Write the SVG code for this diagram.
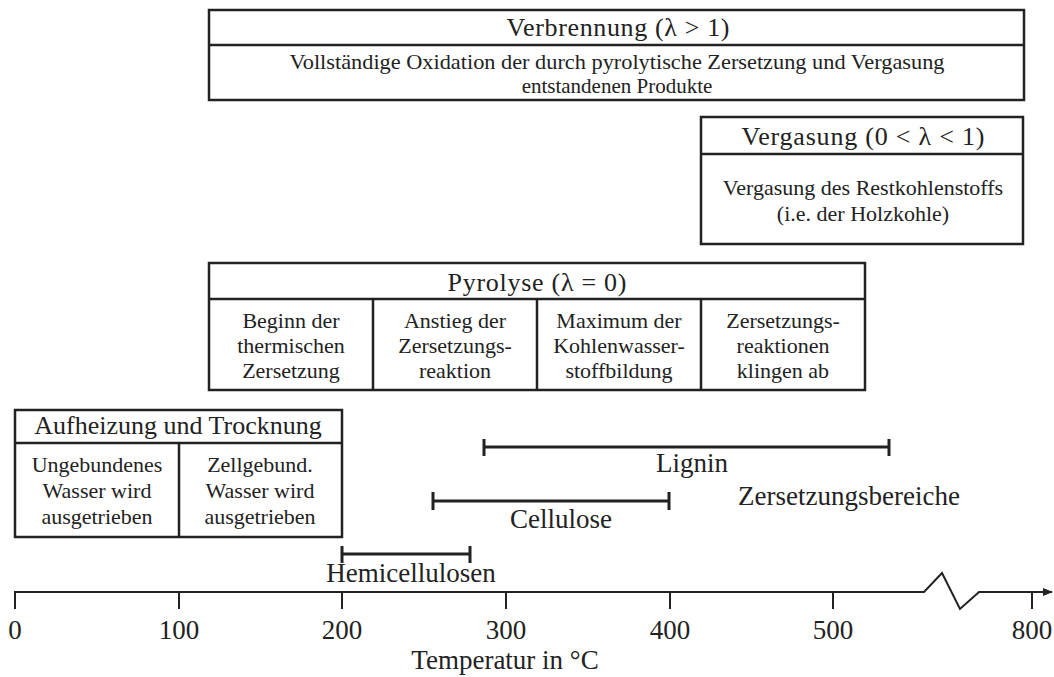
<svg xmlns="http://www.w3.org/2000/svg" width="1054" height="677" viewBox="0 0 1054 677">
<style>
.box{fill:#fff;stroke:#222;stroke-width:2.5}
.ln{fill:none;stroke:#222;stroke-width:2.5}
.ax{fill:none;stroke:#222;stroke-width:2}
.bar{fill:none;stroke:#222;stroke-width:3}
text{fill:#222;text-anchor:middle;font-family:"Liberation Serif","Times New Roman",serif}
.t{font-size:26px}
.l{font-size:27px}
.b{font-size:22px}
.s{font-size:21px}
</style>
<defs>
<marker id="arr" viewBox="0 0 10 10" refX="9" refY="5" markerWidth="10" markerHeight="10" markerUnits="userSpaceOnUse" orient="auto">
<path d="M0,1 L10,5 L0,9 Z" fill="#222"/>
</marker>
</defs>
<rect width="1054" height="677" fill="#fff"/>

<g id="verbrennung">
<rect class="box" x="209" y="10" width="815" height="90"/>
<line class="ln" x1="209" y1="45" x2="1024" y2="45"/>
<text class="t" x="618" y="36" textLength="223" lengthAdjust="spacing">Verbrennung (λ &gt; 1)</text>
<text class="s" x="617" y="69" textLength="655" lengthAdjust="spacingAndGlyphs">Vollständige Oxidation der durch pyrolytische Zersetzung und Vergasung</text>
<text class="s" x="617" y="93">entstandenen Produkte</text>
</g>

<g id="vergasung">
<rect class="box" x="701" y="117" width="322" height="127"/>
<line class="ln" x1="701" y1="154" x2="1023" y2="154"/>
<text class="t" x="863" y="145" textLength="243" lengthAdjust="spacing">Vergasung (0 &lt; λ &lt; 1)</text>
<text class="b" x="863" y="195">Vergasung des Restkohlenstoffs</text>
<text class="b" x="863" y="221">(i.e. der Holzkohle)</text>
</g>

<g id="pyrolyse">
<rect class="box" x="209" y="263" width="656" height="127"/>
<line class="ln" x1="209" y1="299" x2="865" y2="299"/>
<line class="ln" x1="373" y1="299" x2="373" y2="390"/>
<line class="ln" x1="537" y1="299" x2="537" y2="390"/>
<line class="ln" x1="701" y1="299" x2="701" y2="390"/>
<text class="t" x="537" y="291" textLength="179" lengthAdjust="spacing">Pyrolyse (λ = 0)</text>
<text class="b" x="291" y="328">Beginn der</text>
<text class="b" x="291" y="353">thermischen</text>
<text class="b" x="291" y="378">Zersetzung</text>
<text class="b" x="455" y="328">Anstieg der</text>
<text class="b" x="455" y="353">Zersetzungs-</text>
<text class="b" x="455" y="378">reaktion</text>
<text class="b" x="619" y="328">Maximum der</text>
<text class="b" x="619" y="353">Kohlenwasser-</text>
<text class="b" x="619" y="378">stoffbildung</text>
<text class="b" x="783" y="328">Zersetzungs-</text>
<text class="b" x="783" y="353">reaktionen</text>
<text class="b" x="783" y="378">klingen ab</text>
</g>

<g id="aufheizung">
<rect class="box" x="15" y="410" width="327" height="127"/>
<line class="ln" x1="15" y1="443" x2="342" y2="443"/>
<line class="ln" x1="179" y1="443" x2="179" y2="537"/>
<text class="t" x="178" y="434">Aufheizung und Trocknung</text>
<text class="b" x="97" y="472">Ungebundenes</text>
<text class="b" x="97" y="498">Wasser wird</text>
<text class="b" x="97" y="524">ausgetrieben</text>
<text class="b" x="260" y="472">Zellgebund.</text>
<text class="b" x="260" y="498">Wasser wird</text>
<text class="b" x="260" y="524">ausgetrieben</text>
</g>

<g id="lignin">
<path class="bar" d="M484,447 H889 M484,439 V456 M889,439 V456"/>
<text class="l" x="692" y="472">Lignin</text>
</g>
<g id="cellulose">
<path class="bar" d="M433,501 H669 M433,492 V510 M669,492 V510"/>
<text class="l" x="561" y="528">Cellulose</text>
</g>
<g id="hemicellulosen">
<path class="bar" d="M342,554 H470 M342,546 V563 M470,546 V563"/>
<text class="l" x="411" y="582">Hemicellulosen</text>
</g>
<text class="l" x="849" y="505">Zersetzungsbereiche</text>

<g id="axis">
<path class="ax" d="M15,592 H924 L942,573 L960,609 L979,592 H1052" marker-end="url(#arr)"/>
<path class="ax" d="M15,591 V609 M179,592 V609 M342,592 V609 M506,592 V609 M670,592 V609 M833,592 V609 M1032,592 V609"/>
<text class="l" x="15" y="639">0</text>
<text class="l" x="179" y="639">100</text>
<text class="l" x="342" y="639">200</text>
<text class="l" x="506" y="639">300</text>
<text class="l" x="670" y="639">400</text>
<text class="l" x="833" y="639">500</text>
<text class="l" x="1032" y="639">800</text>
<text class="l" x="505" y="669">Temperatur in °C</text>
</g>
</svg>
